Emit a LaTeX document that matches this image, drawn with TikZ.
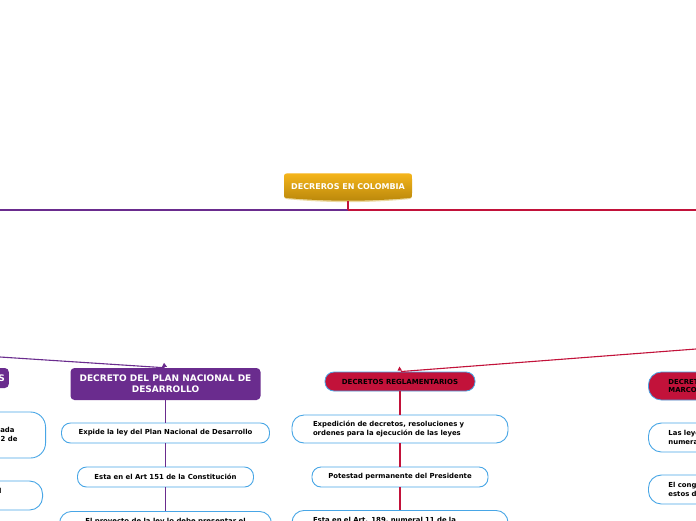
\documentclass[tikz,border=0pt]{standalone}
\usepackage{fontspec}
\setmainfont{DejaVu Sans}
\usetikzlibrary{calc,backgrounds}
\definecolor{mmpurple}{HTML}{6A2C8E}
\definecolor{mmred}{HTML}{C2123A}
\definecolor{mmblue}{HTML}{48A6E6}
\definecolor{goldtop}{HTML}{F5B51B}
\definecolor{goldbot}{HTML}{B9870B}
\definecolor{goldrim}{HTML}{EBD9A0}
\begin{document}
\begin{tikzpicture}[x=1pt,y=-1pt,
  txt/.style={font=\fontsize{6.9}{8.6}\selectfont\bfseries},
  rootbox/.style={rectangle, draw=none, text=white, font=\fontsize{8}{10}\selectfont\bfseries, inner sep=0pt},
  purplebox/.style={rectangle, rounded corners=4pt, fill=mmpurple, draw=none, text=white,
     font=\fontsize{9}{11}\selectfont\bfseries, align=center, inner sep=0pt},
  redbox/.style={rectangle, rounded corners=9pt, fill=mmred, draw=mmblue, line width=0.8pt,
     text=black, font=\fontsize{7}{9}\selectfont\bfseries, inner sep=0pt},
  childbox/.style={rectangle, draw=mmblue, line width=0.9pt, fill=white, rounded corners=9pt,
     txt, inner sep=0pt, align=center},
  purplecon/.style={draw=mmpurple, line width=1.3pt},
  redcon/.style={draw=mmred, line width=1.3pt},
]
\useasboundingbox (0,0) rectangle (696,520);
\clip (0,0) rectangle (696,520);

% root
\node[rootbox, minimum width=128pt, minimum height=28pt] (root) at (348,187) {DECREROS EN COLOMBIA};
\begin{scope}[on background layer]
\fill[white] (0,0) rectangle (696,520);
\fill[goldrim] (284,193) .. controls (284,199) .. (291,199.5) .. controls (330,203) and (366,203) .. (405,199.5) .. controls (412,199) .. (412,193) -- cycle;
\shade[top color=goldtop, bottom color=goldbot]
  (284,179) -- (284,193) .. controls (284,198) .. (290,198.3) .. controls (330,201.5) and (366,201.5) .. (406,198.3) .. controls (412,198) .. (412,193)
  -- (412,179) .. controls (412,173.5) .. (406,173.3) -- (290,173.3) .. controls (284,173.5) .. (284,179) -- cycle;
\end{scope}
\coordinate (hub) at (348,210);
\coordinate (lend) at (0,210);
\coordinate (rend) at (696,210);
\draw[purplecon, line width=1.5pt] (hub) -- (lend);
\draw[redcon, line width=1.5pt] (hub) -- (rend);
\draw[redcon, line width=1.5pt] (root.south) -- (hub);

% left (clipped) column
\node[purplebox, anchor=east, minimum height=20pt, inner xsep=4pt] (pl) at (9,378) {DECRETOS LEYES};
\node[childbox, anchor=east, minimum height=46pt, rounded corners=15pt, align=right, inner xsep=28pt]
  (l1) at (46,435) {Ley orgánica aprobada\kern3pt\\por la Ley 152 de};
\node[childbox, anchor=east, minimum height=29pt, rounded corners=13pt, align=left, inner xsep=41pt]
  (l2) at (43,495.5) {Formulado por el Gobierno y el\\Congreso};

% purple column
\node[purplebox, minimum width=190pt, minimum height=32pt] (pdp) at (165.5,384) {DECRETO DEL PLAN NACIONAL DE\\DESARROLLO};
\node[childbox, minimum width=208pt, minimum height=20pt] (p1) at (165.5,433) {Expide la ley del Plan Nacional de Desarrollo};
\node[childbox, minimum width=176pt, minimum height=20pt] (p2) at (165.5,477) {Esta en el Art 151 de la Constitución};
\node[childbox, anchor=north, minimum width=212pt, minimum height=28pt, rounded corners=12pt] (p3) at (165.5,511) {El proyecto de la ley lo debe presentar el\\Gobierno Nacional};
\draw[purplecon] (pdp.south) -- (p1.north);
\draw[purplecon] (p1.south) -- (p2.north);
\draw[purplecon] (p2.south) -- (p3.north);

\coordinate (pin) at (0,357);
\draw[purplecon, line width=1.1pt, shorten >=1pt] (pin) -- (pdp.north);
\fill[mmpurple] ($(pdp.north)+(-3.5,-1)$) -- ++(2,-4) -- ++(3,4) -- cycle;

% red column
\node[redbox, minimum width=150pt, minimum height=19pt] (rr) at (400,381.5) {DECRETOS REGLAMENTARIOS};
\node[childbox, minimum width=216pt, minimum height=28pt, rounded corners=12pt, align=left, text width=174pt, inner xsep=21pt]
  (r1) at (400,429) {Expedición de decretos, resoluciones y\\ordenes para la ejecución de las leyes};
\node[childbox, minimum width=176pt, minimum height=20pt] (r2) at (400,477) {Potestad permanente del Presidente};
\node[childbox, anchor=north, minimum width=216pt, minimum height=28pt, rounded corners=12pt, align=left, text width=174pt, inner xsep=21pt]
  (r3) at (400,510) {Esta en el Art. 189, numeral 11 de la\\Constitución};
\draw[redcon] (rr.south) -- (r1.north);
\draw[redcon] (r1.south) -- (r2.north);
\draw[redcon] (r2.south) -- (r3.north);

\coordinate (rin) at (696,349);
\draw[redcon, line width=1.1pt, shorten >=1pt] (rin) -- (rr.north);
\fill[mmred] ($(rr.north)+(-2.5,-1)$) -- ++(2,-4) -- ++(2.5,4) -- cycle;

% right (clipped) column
\node[redbox, anchor=west, minimum height=28pt, rounded corners=13pt, align=left, text width=160pt, inner xsep=20pt, font=\fontsize{6.9}{8.8}\selectfont\bfseries]
  (mr) at (648,386) {DECRETOS DE LEYES\\MARCO};
\node[childbox, anchor=west, minimum height=29pt, rounded corners=13pt, align=left, text width=160pt, inner xsep=20pt]
  (w1) at (648,437.5) {Las leyes marco del\\numeral 19};
\node[childbox, anchor=west, minimum height=29pt, rounded corners=13pt, align=left, text width=160pt, inner xsep=20pt]
  (w2) at (648,489.5) {El congreso expide\\estos decretos};
\end{tikzpicture}
\end{document}
